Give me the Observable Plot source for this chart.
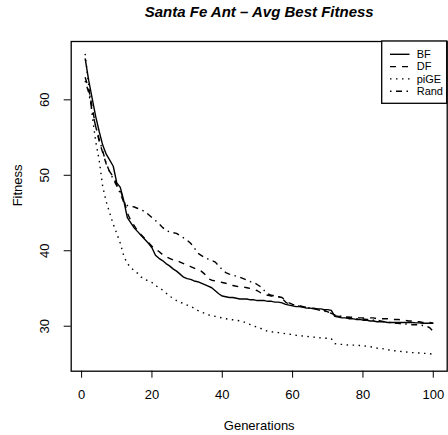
<!DOCTYPE html>
<html>
<head>
<meta charset="utf-8">
<script src="https://cdn.jsdelivr.net/npm/d3@7"></script>
<script src="https://cdn.jsdelivr.net/npm/@observablehq/plot@0.6"></script>
<style>
  html, body { margin: 0; padding: 0; background: #fff; }
  #chart svg { display: block; }
</style>
</head>
<body>
<div id="chart"></div>
<script>
const titleText = "Santa Fe Ant \u2013 Avg Best Fitness";
const xLabel = "Generations";
const yLabel = "Fitness";
const xTicks = [0, 20, 40, 60, 80, 100];
const yTicks = [30, 40, 50, 60];
const seriesNames = ["BF", "DF", "piGE", "Rand"];

const BF = [65.5,62.6,60.2,57.8,55.8,54.0,52.8,52.0,51.2,49.0,
48.4,46.6,44.4,43.7,43.0,42.5,42.0,41.5,41.0,40.4,
39.4,39.0,38.7,38.3,38.0,37.6,37.3,36.9,36.5,36.3,
36.2,36.0,35.9,35.7,35.5,35.3,35.1,34.7,34.3,34.0,
33.9,33.8,33.8,33.7,33.6,33.6,33.6,33.5,33.5,33.4,
33.4,33.4,33.3,33.3,33.2,33.2,33.1,32.9,32.8,32.7,
32.6,32.6,32.5,32.4,32.4,32.3,32.3,32.3,32.2,32.2,
32.1,31.3,31.2,31.1,31.1,31.0,31.0,30.9,30.9,30.8,
30.8,30.7,30.7,30.6,30.6,30.6,30.5,30.5,30.5,30.5,
30.5,30.5,30.5,30.5,30.45,30.45,30.4,30.4,30.4,30.4];

const DF = [63.0,61.5,59.0,56.5,54.5,53.0,51.5,50.5,49.8,48.8,
48.0,46.8,45.0,44.0,43.3,42.6,42.1,41.6,41.1,40.6,
40.2,39.9,39.5,39.2,39.0,38.8,38.7,38.5,38.3,38.1,
37.9,37.7,37.5,37.3,36.9,36.3,36.1,36.0,35.9,35.8,
35.7,35.5,35.4,35.3,35.2,35.2,35.1,35.0,34.9,34.7,
34.4,34.2,34.1,34.0,33.9,33.9,33.8,33.4,33.1,32.9,
32.8,32.7,32.6,32.5,32.4,32.4,32.3,32.2,32.1,31.9,
31.7,31.4,31.3,31.3,31.2,31.2,31.2,31.2,31.1,31.1,
31.1,31.1,31.1,31.0,31.0,31.0,31.0,30.9,30.9,30.9,
30.8,30.8,30.7,30.7,30.6,30.6,30.5,30.5,30.5,30.4];

const piGE = [66.1,62.0,58.0,54.5,52.0,48.5,46.5,45.0,43.5,42.3,
41.0,39.3,38.3,37.8,37.3,37.0,36.5,36.2,36.0,35.8,
35.4,35.1,34.8,34.4,34.0,33.7,33.4,33.2,33.0,32.8,
32.6,32.4,32.1,31.9,31.7,31.5,31.4,31.3,31.2,31.1,
31.0,30.9,30.85,30.8,30.7,30.6,30.4,30.2,30.0,29.9,
29.7,29.5,29.3,29.25,29.2,29.15,29.1,29.0,28.95,28.9,
28.8,28.75,28.7,28.65,28.6,28.55,28.5,28.45,28.4,28.4,
28.35,27.7,27.6,27.6,27.55,27.5,27.5,27.5,27.45,27.4,
27.35,27.3,27.2,27.1,27.05,27.0,26.9,26.8,26.75,26.7,
26.65,26.6,26.55,26.5,26.5,26.45,26.4,26.4,26.35,26.3];

const Rand = [62.5,61.0,58.5,56.5,54.8,53.2,51.6,50.4,49.5,48.6,
47.6,46.4,46.0,45.9,45.8,45.6,45.4,45.2,44.8,44.4,
44.0,43.6,43.1,42.7,42.5,42.4,42.3,42.0,41.7,41.4,
41.0,40.4,39.7,39.4,39.1,38.9,38.7,38.5,38.0,37.5,
37.1,36.9,36.8,36.6,36.5,36.3,36.1,35.9,35.8,35.5,
35.2,34.7,34.3,34.1,34.0,33.9,33.7,33.2,32.9,32.8,
32.7,32.65,32.6,32.5,32.4,32.35,32.2,32.1,32.0,31.9,
31.7,31.5,31.4,31.3,31.2,31.15,31.1,31.0,31.0,30.95,
30.9,30.9,30.8,30.8,30.7,30.6,30.5,30.5,30.4,30.4,
30.3,30.3,30.3,30.2,30.2,30.2,30.1,30.0,29.8,29.3];

const seriesValues = [BF, DF, piGE, Rand];
const dashes = [null, "6,6", "1.5,4.5", "1.5,4.5,6,4.5"];

const rows = seriesNames.map((name, s) =>
  seriesValues[s].map((v, i) => ({series: name, gen: i + 1, value: v}))
);

const font = "'Liberation Sans', Arial, Helvetica, sans-serif";

const lineMarks = rows.map((data, s) =>
  Plot.line(data, {
    x: "gen", y: "value", stroke: "#000", strokeWidth: 1.4,
    strokeDasharray: dashes[s] || undefined, strokeLinecap: "butt", strokeLinejoin: "round"
  })
);

const plot = Plot.plot({
  width: 448,
  height: 435,
  marginLeft: 70.7,
  marginRight: 1.3,
  marginTop: 41,
  marginBottom: 64.3,
  style: {fontFamily: font, fontSize: "13px", background: "#fff", color: "#000", overflow: "visible"},
  x: {domain: [-2.96, 103.96]},
  y: {domain: [24.04, 67.73]},
  marks: [
    Plot.axisX({ticks: xTicks, tickSize: 7, tickPadding: 12, label: null, fontSize: 13}),
    Plot.axisY({ticks: yTicks, tickSize: 7, tickRotate: -90, tickPadding: 15, label: null, fontSize: 13}),
    ...lineMarks,
    Plot.frame({stroke: "#000", strokeWidth: 1.3}),
    Plot.text([titleText], {text: d => d, frameAnchor: "top", dy: -29, fontSize: 15, fontWeight: "bold", fontStyle: "italic", lineAnchor: "middle"}),
    Plot.text([xLabel], {text: d => d, frameAnchor: "bottom", dy: 54.3, fontSize: 13, lineAnchor: "middle"}),
    Plot.text([yLabel], {text: d => d, frameAnchor: "left", dx: -53.7, rotate: -90, fontSize: 13, lineAnchor: "middle"})
  ]
});

// Legend (top-right, inside plot box)
const svg = d3.select(plot);
const lg = svg.append("g").attr("font-family", font).attr("font-size", 11).attr("text-anchor", "start");
lg.append("rect")
  .attr("x", 381.7).attr("y", 41).attr("width", 65).attr("height", 62.3)
  .attr("fill", "#fff").attr("stroke", "#000").attr("stroke-width", 1.3);
seriesNames.forEach((name, i) => {
  const y = 54.3 + i * 12.3;
  lg.append("line")
    .attr("x1", 390).attr("x2", 409.5).attr("y1", y).attr("y2", y)
    .attr("stroke", "#000").attr("stroke-width", 1.4)
    .attr("stroke-dasharray", dashes[i]);
  lg.append("text")
    .attr("x", 416.7).attr("y", y).attr("dy", "0.35em")
    .attr("text-anchor", "start")
    .attr("fill", "#000")
    .text(name);
});

document.getElementById("chart").appendChild(plot);
</script>
</body>
</html>
